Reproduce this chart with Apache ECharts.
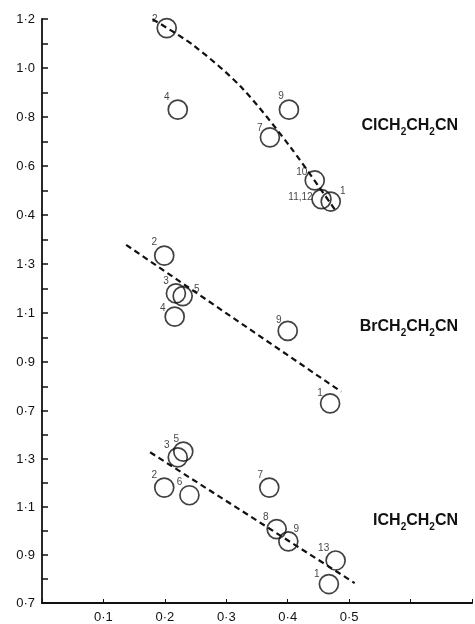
<!DOCTYPE html>
<html>
<head>
<meta charset="utf-8">
<script src="https://cdn.jsdelivr.net/npm/echarts@6/dist/echarts.min.js"></script>
<style>
  html, body { margin: 0; padding: 0; background: #fff; }
  #main { width: 475px; height: 624px; }
</style>
</head>
<body>
<div id="main"></div>
<script>
// tick labels
var xTickLabels = ['0·1', '0·2', '0·3', '0·4', '0·5'];
var clTickLabels = ['0·4', '0·6', '0·8', '1·0', '1·2'];
var brTickLabels = ['0·7', '0·9', '1·1', '1·3'];
var iTickLabels = ['0·7', '0·9', '1·1', '1·3'];

// ClCH2CH2CN panel: [x, y, point number]
var clPoints = [
  [0.203, 1.163, '2'],
  [0.221, 0.830, '4'],
  [0.402, 0.830, '9'],
  [0.371, 0.717, '7'],
  [0.444, 0.541, '10'],
  [0.455, 0.465, '11,12'],
  [0.470, 0.455, '1']
];
var clCurve = [
  [0.166, 1.22], [0.245, 1.095], [0.325, 0.92], [0.405, 0.675], [0.48, 0.41]
];

// BrCH2CH2CN panel
var brPoints = [
  [0.199, 1.334, '2'],
  [0.218, 1.180, '3'],
  [0.229, 1.169, '5'],
  [0.216, 1.085, '4'],
  [0.400, 1.027, '9'],
  [0.469, 0.731, '1']
];
var brLine = [[0.137, 1.378], [0.487, 0.779]];

// ICH2CH2CN panel
var iPoints = [
  [0.221, 1.307, '3'],
  [0.230, 1.331, '5'],
  [0.199, 1.181, '2'],
  [0.240, 1.149, '6'],
  [0.370, 1.181, '7'],
  [0.382, 1.008, '8'],
  [0.401, 0.957, '9'],
  [0.478, 0.877, '13'],
  [0.467, 0.779, '1']
];
var iLine = [[0.176, 1.328], [0.509, 0.783]];

// where each point number sits relative to its circle (px)
var clLabelOffsets = [[-12, -9], [-11, -12], [-8, -13], [-10, -9], [-13, -8], [-21, -2], [12, -10]];
var brLabelOffsets = [[-10, -13], [-10, -12], [14, -7], [-12, -8], [-9, -11], [-10, -10]];
var iLabelOffsets = [[-11, -12], [-7, -12], [-10, -12], [-10, -13], [-9, -12], [-11, -12], [8, -12], [-12, -12], [-12, -10]];

var fontFam = 'Liberation Sans, Arial, sans-serif';

function fmt(v) {
  return v.toFixed(1).replace('.', '·');
}

function yAxisFor(idx, min, max, labels) {
  return {
    type: 'value',
    gridIndex: idx,
    min: min,
    max: max,
    interval: 0.1,
    axisLine: { show: true, lineStyle: { color: '#111', width: 1.8 } },
    axisTick: { show: true, inside: true, length: 6, lineStyle: { color: '#111', width: 1.5 } },
    splitLine: { show: false },
    axisLabel: {
      color: '#111',
      fontSize: 13,
      fontFamily: fontFam,
      margin: 7,
      showMinLabel: true,
      showMaxLabel: true,
      formatter: function (v) {
        var s = fmt(v);
        return labels.indexOf(s) >= 0 ? s : '';
      }
    }
  };
}

function xAxisFor(idx, visible) {
  return {
    type: 'value',
    gridIndex: idx,
    min: 0,
    max: 0.7,
    interval: 0.1,
    show: visible,
    axisLine: { show: true, onZero: false, lineStyle: { color: '#111', width: 2.2 } },
    axisTick: { show: true, inside: true, length: 4, lineStyle: { color: '#111', width: 1 } },
    splitLine: { show: false },
    axisLabel: {
      color: '#111',
      fontSize: 13,
      fontFamily: fontFam,
      margin: 8,
      formatter: function (v) {
        var s = fmt(v);
        return xTickLabels.indexOf(s) >= 0 ? s : '';
      }
    }
  };
}

function pointSeries(idx, pts, offsets) {
  return {
    type: 'scatter',
    xAxisIndex: idx,
    yAxisIndex: idx,
    symbol: 'circle',
    symbolSize: 19,
    itemStyle: { color: 'rgba(0,0,0,0)', borderColor: '#111', borderWidth: 1.7 },
    data: pts.map(function (p, i) {
      return {
        value: [p[0], p[1]],
        name: p[2],
        label: { offset: offsets[i] }
      };
    }),
    label: {
      show: true,
      position: 'inside',
      formatter: '{b}',
      color: '#111',
      fontSize: 10,
      fontFamily: fontFam
    },
    z: 3
  };
}

function dashSeries(idx, pts, smooth) {
  return {
    type: 'line',
    xAxisIndex: idx,
    yAxisIndex: idx,
    data: pts,
    smooth: smooth,
    showSymbol: false,
    lineStyle: { color: '#111', width: 2.2, type: [6, 4] },
    z: 2
  };
}

function formula(text, x, y) {
  return {
    type: 'text',
    right: 475 - x,
    top: y - 10,
    style: {
      text: text,
      fill: '#111',
      rich: {
        a: { fontSize: 16, fontWeight: 'bold', fontFamily: fontFam, lineHeight: 16, verticalAlign: 'top', fill: '#111' },
        s: { fontSize: 10, fontWeight: 'bold', fontFamily: fontFam, lineHeight: 10, padding: [9, 0, 0, 0], verticalAlign: 'top', fill: '#111' }
      }
    }
  };
}

var chart = echarts.init(document.getElementById('main'));
chart.setOption({
  backgroundColor: '#fff',
  animation: false,
  grid: [
    { left: 42, width: 430, top: 19, height: 196 },
    { left: 42, width: 430, top: 215, height: 196 },
    { left: 42, width: 430, top: 411, height: 194 }
  ],
  xAxis: [xAxisFor(0, false), xAxisFor(1, false), xAxisFor(2, true)],
  yAxis: [
    yAxisFor(0, 0.4, 1.2, clTickLabels),
    yAxisFor(1, 0.7, 1.5, brTickLabels),
    yAxisFor(2, 0.7, 1.5, iTickLabels)
  ],
  series: [
    dashSeries(0, clCurve, 0.3),
    pointSeries(0, clPoints, clLabelOffsets),
    dashSeries(1, brLine, false),
    pointSeries(1, brPoints, brLabelOffsets),
    dashSeries(2, iLine, false),
    pointSeries(2, iPoints, iLabelOffsets)
  ],
  graphic: [
    formula('{a|ClCH}{s|2}{a|CH}{s|2}{a|CN}', 458, 128),
    formula('{a|BrCH}{s|2}{a|CH}{s|2}{a|CN}', 458, 329),
    formula('{a|ICH}{s|2}{a|CH}{s|2}{a|CN}', 458, 523)
  ]
});
</script>
</body>
</html>
